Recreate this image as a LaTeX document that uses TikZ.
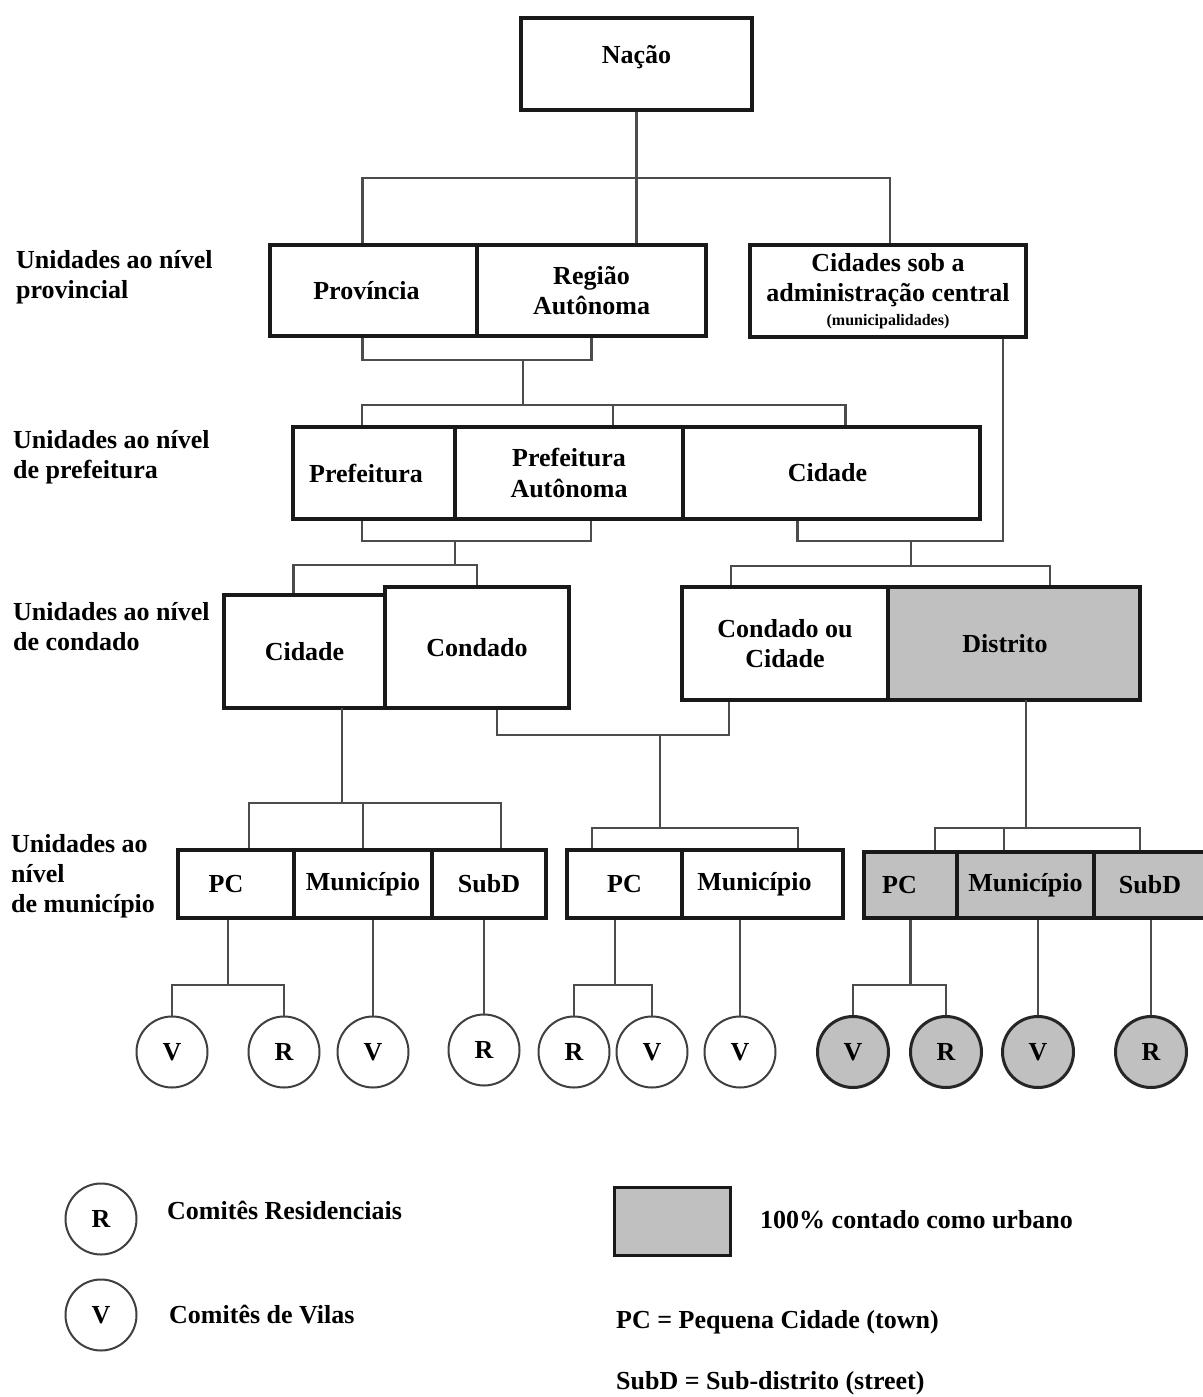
\documentclass[tikz,border=0pt]{standalone}
\usepackage{fontspec}
\setmainfont{Liberation Serif}
\definecolor{boxgray}{RGB}{192,192,192}
\newcommand\mainfs{\fontsize{26}{30}\selectfont\bfseries}
\newcommand\smallfs{\fontsize{16}{18}\selectfont\bfseries}
\begin{document}
\begin{tikzpicture}[x=1pt,y=-1pt,
 box/.style={draw=black!90, line width=3.5pt, fill=white, align=center, inner sep=0pt, font=\mainfs},
 gbox/.style={box, fill=boxgray},
 conn/.style={draw=black!70, line width=2.5pt},
 circ/.style={circle, draw=black!75, line width=2pt, fill=white, minimum size=71pt, inner sep=0pt, font=\mainfs},
 gcirc/.style={circ, fill=boxgray, draw=black!85, line width=3pt},
 lab/.style={anchor=west, align=left, inner sep=0pt, font=\mainfs},
]
\path[fill=white, use as bounding box] (0,0) rectangle (1202,1397);

% level labels
\node[lab] (l1) at (16,277) {Unidades ao nível\\provincial};
\node[lab] (l2) at (13,457) {Unidades ao nível\\de prefeitura};
\node[lab] (l3) at (13,627) {Unidades ao nível\\de condado};
\node[lab] (l4) at (11,876) {Unidades ao\\nível\\de município};

% top
\node[box, minimum width=231pt, minimum height=92pt] (nacao) at (636.5,64) {\raisebox{20pt}{Nação}};

% provincial
\node[box, minimum width=207pt, minimum height=91pt] (prov) at (373.5,290.5) {Província\hspace*{14pt}};
\node[box, minimum width=229pt, minimum height=91pt] (regiao) at (591.5,290.5) {Região\\Autônoma};
\node[box, minimum width=276pt, minimum height=92pt] (cidsob) at (888,291) {Cidades sob a\\administração central\\[-6pt]{\smallfs (municipalidades)}};

% prefecture
\node[box, minimum width=162pt, minimum height=92pt] (pref) at (374,473) {Prefeitura\hspace*{16pt}};
\node[box, minimum width=228pt, minimum height=92pt] (prefaut) at (569,473) {Prefeitura\\Autônoma};
\node[box, minimum width=297pt, minimum height=92pt] (cidpref) at (831.5,473) {Cidade\hspace*{8pt}};

% county
\node[box, minimum width=161pt, minimum height=113pt] (cidc) at (304.5,651.5) {Cidade};
\node[box, minimum width=184pt, minimum height=121pt] (condado) at (477,647.5) {Condado};
\node[box, minimum width=206pt, minimum height=113pt] (condcid) at (785,643.5) {Condado ou\\Cidade};
\node[gbox, minimum width=252pt, minimum height=113pt] (distrito) at (1014,643.5) {Distrito\hspace*{18pt}};

% municipal
\node[box, minimum width=116pt, minimum height=68pt] (pc1) at (236,884) {PC\hspace*{20pt}};
\node[box, minimum width=138pt, minimum height=68pt] (mun1) at (363,884) {Município};
\node[box, minimum width=114pt, minimum height=68pt] (subd1) at (489,884) {SubD};
\node[box, minimum width=115pt, minimum height=68pt] (pc2) at (624.5,884) {PC};
\node[box, minimum width=161pt, minimum height=68pt] (mun2) at (762.5,884) {Município\hspace*{16pt}};
\node[gbox, minimum width=93pt, minimum height=66pt] (pc3) at (910.5,885) {PC\hspace*{22pt}};
\node[gbox, minimum width=137pt, minimum height=66pt] (mun3) at (1025.5,885) {Município};
\node[gbox, minimum width=112pt, minimum height=66pt] (subd3) at (1150,885) {SubD};

% committees
\node[circ] (V1) at (172,1052) {V};
\node[circ] (R1) at (284,1052) {R};
\node[circ] (V2) at (373,1052) {V};
\node[circ] (R2) at (484,1050) {R};
\node[circ] (R3) at (574,1052) {R};
\node[circ] (V3) at (652,1052) {V};
\node[circ] (V4) at (740,1052) {V};
\node[gcirc] (V5) at (853,1052) {V};
\node[gcirc] (R4) at (946,1052) {R};
\node[gcirc] (V6) at (1038,1052) {V};
\node[gcirc] (R5) at (1151,1052) {R};

% junction coordinates
\coordinate (j1) at (636.5,178);
\coordinate (j2) at (523,360);
\coordinate (j3) at (523,405);
\coordinate (j4) at (455,541);
\coordinate (j5) at (455,565);
\coordinate (j6) at (911,541);
\coordinate (j7) at (911,566);
\coordinate (j8) at (342,708);
\coordinate (j9) at (342,803);
\coordinate (j10) at (613,735);
\coordinate (j11) at (660,735);
\coordinate (j12) at (660,828);
\coordinate (j13) at (1026,700);
\coordinate (j14) at (1026,828);
\coordinate (j15) at (228,985);
\coordinate (j16) at (615,985);
\coordinate (j17) at (910.5,985);

% connectors
\draw[conn] (nacao.south) -- (nacao.south |- regiao.north);
\draw[conn] ([xshift=-11pt]prov.north) |- (j1) -| ([xshift=2pt]cidsob.north);

\draw[conn] ([xshift=-11pt]prov.south) |- (j2) -| (regiao.south);
\draw[conn] (j2) -- (j3);
\draw[conn] ([xshift=-12pt]pref.north) |- ([xshift=14pt]cidpref.north |- j3) -- ([xshift=14pt]cidpref.north);
\draw[conn] ([xshift=44pt]prefaut.north) -- ([xshift=44pt]prefaut.north |- j3);

\draw[conn] ([xshift=-12pt]pref.south) |- (j4) -| ([xshift=22pt]prefaut.south);
\draw[conn] (j4) -- (j5);
\draw[conn] ([xshift=-11pt]cidc.north) |- (j5) -| (condado.north);

\draw[conn] ([xshift=-34pt]cidpref.south) |- (j6) -| ([xshift=115pt]cidsob.south);
\draw[conn] (j6) -- (j7);
\draw[conn] ([xshift=-54pt]condcid.north) |- (j7) -| ([xshift=36pt]distrito.north);

\draw[conn] (j8) -- (j9);
\draw[conn] ([xshift=13pt]pc1.north) |- (j9) -| ([xshift=12pt]subd1.north);
\draw[conn] (mun1.north) -- (mun1.north |- j9);

\draw[conn] ([xshift=20pt]condado.south) |- (j10) -| ([xshift=-56pt]condcid.south);
\draw[conn] (j11) -- (j12);
\draw[conn] ([xshift=-32.5pt]pc2.north) |- (j12) -| ([xshift=35.5pt]mun2.north);

\draw[conn] (j13) -- (j14);
\draw[conn] ([xshift=24.5pt]pc3.north) |- (j14) -| ([xshift=-10pt]subd3.north);
\draw[conn] ([xshift=-21.5pt]mun3.north) -- ([xshift=-21.5pt]mun3.north |- j14);

\draw[conn] ([xshift=-8pt]pc1.south) -- (j15);
\draw[conn] (V1.north) |- (j15) -| (R1.north);
\draw[conn] (V2.north |- mun1.south) -- (V2.north);
\draw[conn] (R2.north |- subd1.south) -- (R2.north);
\draw[conn] ([xshift=-9.5pt]pc2.south) -- (j16);
\draw[conn] (R3.north) |- (j16) -| (V3.north);
\draw[conn] (V4.north |- mun2.south) -- (V4.north);
\draw[conn] (pc3.south) -- (j17);
\draw[conn] (V5.north) |- (j17) -| (R4.north);
\draw[conn] (V6.north |- mun3.south) -- (V6.north);
\draw[conn] (R5.north |- subd3.south) -- (R5.north);

% legend
\node[circ] (legR) at (101,1219) {R};
\node[lab] (legRt) at (167,1210) {Comitês Residenciais};
\node[circ] (legV) at (101,1315) {V};
\node[lab] (legVt) at (169,1315) {Comitês de Vilas};
\node[gbox, line width=3pt, minimum width=116pt, minimum height=68pt] (legG) at (672,1221) {};
\node[lab] (legGt) at (760,1220) {100\% contado como urbano};
\node[lab] (legPC) at (616,1322) {PC = Pequena Cidade (town)};
\node[lab] (legSD) at (616,1383) {SubD = Sub-distrito (street)};
\end{tikzpicture}
\end{document}
